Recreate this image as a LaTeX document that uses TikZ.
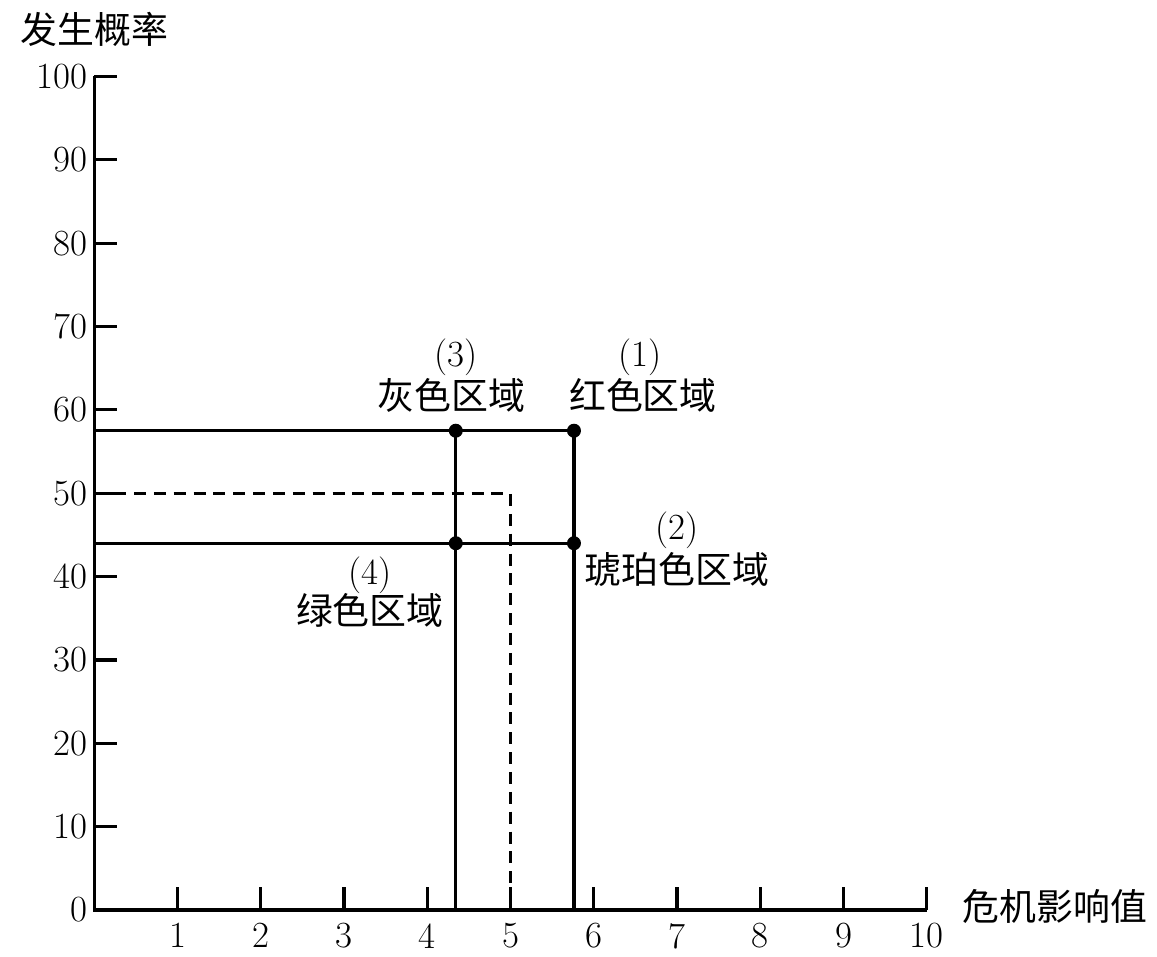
\documentclass[tikz,border=0pt]{standalone}
\usepackage{fontspec}
\newfontfamily\cjk{Noto Sans CJK SC}
\begin{document}
\begin{tikzpicture}[x=1.665cm,y=0.1667cm,line width=1.8pt]
\fontsize{21}{25}\selectfont
\useasboundingbox(-1.886cm,-0.94cm)rectangle(21.254cm,18.2cm);
% axes and ticks
\draw(0,100)--(0,0)--(10,0);
\foreach \y in {10,20,...,100}
  \draw(0,\y)node[left,inner sep=3pt]{\y}--++(0.46cm,0);
\foreach \x in {1,...,10}
  \draw(\x,0)node[below,inner sep=0.24cm]{\x}--++(0,0.46cm);
\node[left,inner sep=3pt]at(0,0){0};
\node(ylab)at(0,105.6){\cjk 发生概率};
\node(xlab)at(11.54,0.4){\cjk 危机影响值};
% zone lines
\coordinate(grey)at(4.342,57.5);
\coordinate(red)at(5.762,57.5);
\coordinate(green)at(4.342,44);
\coordinate(amber)at(5.762,44);
\draw(0,57.5)--(red)--(5.762,0);
\draw(grey)--(4.342,0);
\draw(0,44)--(amber);
\draw[dash pattern=on 6.8pt off 4.5pt](0,50)-|(5,0);
\foreach \p in {grey,red,green,amber}\fill(\p)circle(0.14cm);
% zone labels
\node(n3)at(4.342,66.3){(3)};
\node(t3)at(4.29,61.7){\cjk 灰色区域};
\node(n1)at(6.55,66.3){(1)};
\node(t1)at(6.59,61.7){\cjk 红色区域};
\node(n2)at(7.0,45.6){(2)};
\node(t2)at(7.0,40.8){\cjk 琥珀色区域};
\node(n4)at(3.31,40.2){(4)};
\node(t4)at(3.31,35.9){\cjk 绿色区域};
\end{tikzpicture}
\end{document}
